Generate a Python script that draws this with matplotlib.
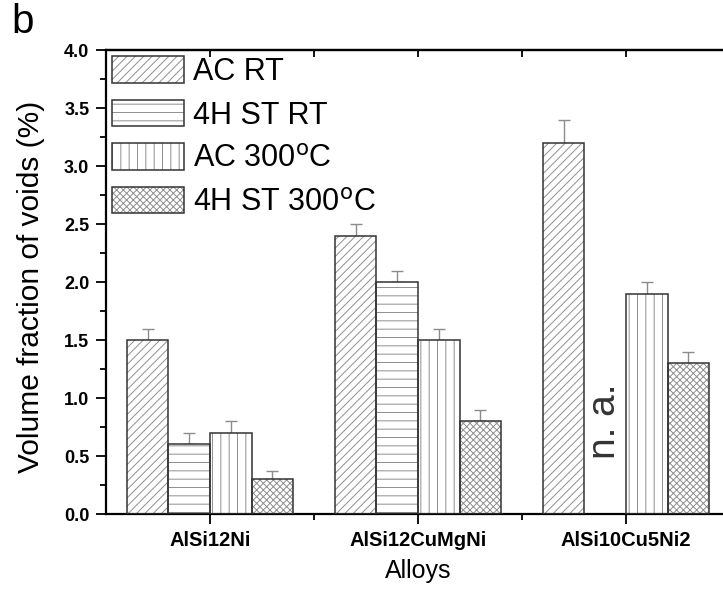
import numpy as np
import matplotlib.pyplot as plt
from matplotlib.ticker import MultipleLocator, FixedLocator
from matplotlib.legend_handler import HandlerTuple

plt.rcParams['font.family'] = ['Liberation Sans', 'DejaVu Sans']
plt.rcParams['hatch.linewidth'] = 0.7

# data
alloys = ['AlSi12Ni', 'AlSi12CuMgNi', 'AlSi10Cu5Ni2']
labels = ['AC RT', '4H ST RT', 'AC 300$^{\\rm o}$C', '4H ST 300$^{\\rm o}$C']
ac_rt = [1.5, 2.4, 3.2]
ac_rt_err = [0.1, 0.1, 0.2]
st_rt = [0.6, 2.0, np.nan]          # n. a. for AlSi10Cu5Ni2
st_rt_err = [0.1, 0.1, 0.0]
ac_300 = [0.7, 1.5, 1.9]
ac_300_err = [0.1, 0.1, 0.1]
st_300 = [0.3, 0.8, 1.3]
st_300_err = [0.07, 0.1, 0.1]

series = [ac_rt, st_rt, ac_300, st_300]
errors = [ac_rt_err, st_rt_err, ac_300_err, st_300_err]
hatches = ['////', '--', '||', 'xxxxx']

fig = plt.figure(figsize=(7.23, 5.90), dpi=100)
ax = fig.add_axes([0.1466, 0.1288, 0.863, 0.786])

x = np.arange(1, len(alloys) + 1)
w = 0.2
handles = []
for i, (vals, errs) in enumerate(zip(series, errors)):
    pos = x + (i - 1.5) * w
    vals = np.array(vals)
    ok = ~np.isnan(vals)
    hb = ax.bar(pos[ok], vals[ok], w, color='white', edgecolor='#8f8f8f',
                hatch=hatches[i], linewidth=0, zorder=2)
    ob = ax.bar(pos[ok], vals[ok], w, color='none', edgecolor='#333333',
                linewidth=1.1, zorder=3)
    ax.errorbar(pos[ok], vals[ok], yerr=[np.zeros(ok.sum()), np.array(errs)[ok]],
                fmt='none', ecolor='#8c8c8c', elinewidth=1.0, capsize=4,
                capthick=1.0, zorder=1)
    handles.append((hb[0], ob[0]))

ax.text(3 - 0.5 * w, 0.8, 'n. a.', rotation=90, ha='center', va='center',
        fontsize=28, color='#333333')

ax.set_xlim(0.5, 3.5)
ax.set_ylim(0, 4.0)
ax.set_xticks(x)
ax.set_xticklabels(alloys, fontsize=14.5, fontweight='bold')
ax.xaxis.set_minor_locator(FixedLocator([1.5, 2.5]))
ax.yaxis.set_major_locator(MultipleLocator(0.5))
ax.yaxis.set_minor_locator(MultipleLocator(0.25))
ax.yaxis.set_major_formatter(plt.FormatStrFormatter('%.1f'))
for t in ax.get_yticklabels():
    t.set_fontweight('bold')
    t.set_fontsize(13)

ax.tick_params(which='major', direction='out', length=7, width=1.3, pad=5)
ax.tick_params(which='minor', direction='out', length=4, width=1.3)

# top and right: ticks only, pointing inward
top = ax.secondary_xaxis('top')
top.set_xticks(x)
top.xaxis.set_minor_locator(FixedLocator([1.5, 2.5]))
top.tick_params(which='both', direction='in', length=5, width=1.3, labeltop=False)
right = ax.secondary_yaxis('right')
right.yaxis.set_major_locator(MultipleLocator(0.5))
right.yaxis.set_minor_locator(MultipleLocator(0.25))
right.tick_params(which='both', direction='in', length=5, width=1.3, labelright=False)

for sp in ax.spines.values():
    sp.set_linewidth(1.6)
top.spines['top'].set_linewidth(1.6)
right.spines['right'].set_linewidth(1.6)

ax.set_ylabel('Volume fraction of voids (%)', fontsize=21.5)
ax.yaxis.set_label_coords(-0.098, 0.49)
ax.set_xlabel('Alloys', fontsize=18)
ax.xaxis.set_label_coords(0.5, -0.097)

ax.legend(handles, labels, handler_map={tuple: HandlerTuple(ndivide=1)},
          loc='upper left', bbox_to_anchor=(0.0, 1.0), frameon=False,
          fontsize=22, handlelength=2.35, handleheight=0.95,
          handletextpad=0.3, labelspacing=0.42, borderpad=0.2,
          borderaxespad=0.0)

fig.text(0.016, 0.944, 'b', fontsize=29, ha='left', va='baseline')

fig.savefig('out.png', dpi=100)
